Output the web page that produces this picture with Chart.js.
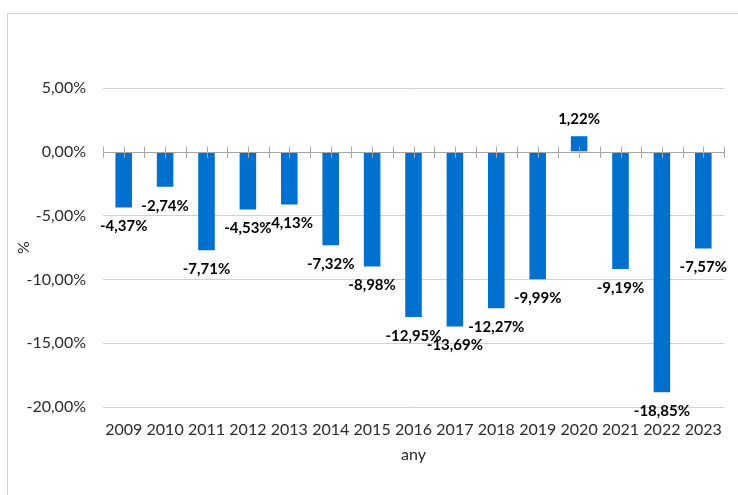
<!DOCTYPE html>
<html>
<head>
<meta charset="utf-8">
<script src="https://cdn.jsdelivr.net/npm/chart.js@4.4.1/dist/chart.umd.min.js"></script>
<style>
  body { margin: 0; background: #fff; }
  #frame { position: absolute; left: 7px; top: 13px; width: 740px; height: 500px; border: 1px solid #d4d4d4; }
  #dataChart { position: absolute; left: 0; top: 0; }
</style>
</head>
<body>
<div id="frame"></div>
<canvas id="dataChart" width="738" height="495"></canvas>
<script>
const years = ['2009', '2010', '2011', '2012', '2013', '2014', '2015', '2016', '2017', '2018', '2019', '2020', '2021', '2022', '2023'];
const values = [-4.37, -2.74, -7.71, -4.53, -4.13, -7.32, -8.98, -12.95, -13.69, -12.27, -9.99, 1.22, -9.19, -18.85, -7.57];
const yTicks = [5, 0, -5, -10, -15, -20];

const fmt = (v) => v.toFixed(2).replace('.', ',') + '%';

// value labels at bar ends + the zero axis with its small cross ticks
const barLabels = {
    id: 'barLabels',
    afterDatasetsDraw(chart) {
        const ctx = chart.ctx;
        const x = chart.scales.x;
        const y = chart.scales.y;
        const y0 = y.getPixelForValue(0);
        const half = (x.getPixelForValue(1) - x.getPixelForValue(0)) / 2;

        ctx.save();
        ctx.strokeStyle = '#a6a6a6';
        ctx.lineWidth = 1;
        ctx.beginPath();
        ctx.moveTo(chart.chartArea.left, Math.round(y0) + 0.5);
        ctx.lineTo(chart.chartArea.right, Math.round(y0) + 0.5);
        for (let i = 0; i < years.length; i++) {
            const cx = x.getPixelForValue(i);
            [cx - half, cx, cx + half].forEach(px => {
                ctx.moveTo(Math.round(px) + 0.5, y0 - 5);
                ctx.lineTo(Math.round(px) + 0.5, y0 + 6);
            });
        }
        ctx.stroke();

        ctx.font = 'bold 15px Lato';
        ctx.fillStyle = '#000';
        ctx.textAlign = 'center';
        ctx.textBaseline = 'middle';
        chart.getDatasetMeta(0).data.forEach((bar, i) => {
            const v = values[i];
            const ty = v < 0 ? bar.y + 19 : bar.y - 17;
            ctx.fillText(fmt(v), bar.x, ty);
        });
        ctx.restore();
    }
};

const config = {
    type: 'bar',
    data: {
        labels: years,
        datasets: [{
            data: values,
            backgroundColor: '#0070CE',
            categoryPercentage: 1,
            barPercentage: 0.4,
        }]
    },
    options: {
        responsive: false,
        animation: false,
        layout: { padding: { left: 0, top: 88, right: 14, bottom: 0 } },
        plugins: {
            legend: { display: false },
            tooltip: { enabled: false },
        },
        scales: {
            x: {
                afterFit: (s) => { s.height = 88; },
                grid: { display: false },
                border: { display: false },
                ticks: { color: '#2b2b2b', font: { family: 'Lato', size: 16 }, padding: 5, maxRotation: 0, autoSkip: false },
                title: { display: true, text: 'any', color: '#2b2b2b', font: { family: 'Lato', size: 16 }, padding: { top: 0, bottom: 31 } },
            },
            y: {
                min: -20,
                max: 5,
                afterBuildTicks: (s) => { s.ticks = yTicks.map(v => ({ value: v })); },
                afterFit: (s) => { s.width = 103; },
                grid: {
                    color: (c) => c.tick && c.tick.value === 0 ? 'rgba(0,0,0,0)' : '#d0d0d0',
                    drawTicks: false,
                },
                border: { display: false },
                ticks: { color: '#2b2b2b', font: { family: 'Lato', size: 16 }, padding: 17, callback: (v) => fmt(v) },
                title: { display: true, text: '%', color: '#2b2b2b', font: { family: 'Lato', size: 16 }, padding: { top: 14, bottom: 0 } },
            },
        },
    },
    plugins: [barLabels],
};

const dataChart = new Chart(document.getElementById('dataChart'), config);
</script>
</body>
</html>
